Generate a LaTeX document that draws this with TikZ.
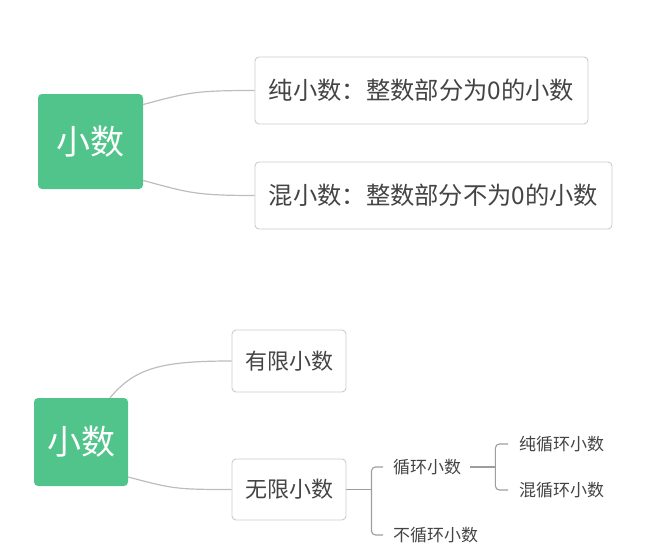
\documentclass[tikz,border=0pt]{standalone}
\usepackage{fontspec}
\setmainfont{Noto Sans CJK SC}
\usepackage{tikz}
\usetikzlibrary{calc}

\definecolor{mapgreen}{HTML}{51C48C}
\definecolor{maptext}{HTML}{444444}
\definecolor{mapline}{HTML}{BDBDBD}
\definecolor{mapborder}{HTML}{CCCCCC}
\definecolor{mapbrace}{HTML}{9E9E9E}

\begin{document}
\begin{tikzpicture}[
        x=1pt, y=-1pt,
        root/.style={
            rectangle,
            fill=mapgreen,
            rounded corners=4pt,
            text=white,
            align=center,
            font=\fontsize{34}{40}\selectfont,
            inner sep=0pt
        },
        topic/.style={
            rectangle,
            draw=mapborder,
            fill=white,
            line width=0.9pt,
            rounded corners=4pt,
            text=maptext,
            align=center,
            font=\fontsize{22}{26}\selectfont,
            inner sep=0pt
        },
        wide/.style={
            font=\fontsize{24.3}{28}\selectfont
        },
        leaf/.style={
            anchor=west,
            text=maptext,
            font=\fontsize{17}{20}\selectfont,
            inner sep=0pt
        },
        link/.style={
            draw=mapline,
            line width=1.2pt
        },
        brace/.style={
            draw=mapbrace,
            line width=1.1pt,
            rounded corners=4pt
        }
    ]

        \useasboundingbox (0,0) rectangle (665,560);

        % upper map
        \node[root, minimum width=105pt, minimum height=95pt] (rootA) at (90.5,141.5) {小数};
        \node[topic, wide, minimum width=333pt, minimum height=67pt] (chun) at (421.5,90.5) {纯小数：整数部分为0的小数};
        \node[topic, wide, minimum width=357pt, minimum height=67pt] (hun) at (433.5,195.5) {混小数：整数部分不为0的小数};

        \draw[link] ([yshift=37pt]rootA.east) .. controls +(45,-12) and +(-60,0) .. (chun.west);
        \draw[link] ([yshift=-39pt]rootA.east) .. controls +(45,12) and +(-60,0) .. (hun.west);

        % lower map
        \node[root, minimum width=94pt, minimum height=88pt] (rootB) at (81,442) {小数};
        \node[topic, minimum width=114pt, minimum height=62pt] (youxian) at (289,361) {有限小数};
        \node[topic, minimum width=114pt, minimum height=61pt] (wuxian) at (289,489.5) {无限小数};

        \node[leaf] (xunhuan) at (393,467) {循环小数};
        \node[leaf] (buxunhuan) at (393,535) {不循环小数};
        \node[leaf] (chunxh) at (519,444) {纯循环小数};
        \node[leaf] (hunxh) at (519,490) {混循环小数};

        \draw[link] ([xshift=29pt]rootB.north) .. controls +(25,-30) and +(-70,0) .. (youxian.west);
        \draw[link] ([yshift=-35pt]rootB.east) .. controls +(45,12) and +(-55,0) .. (wuxian.west);

        \draw[brace] (wuxian.east) -- ++(25,0) coordinate (fork1);
        \draw[brace] ([xshift=-10pt]xunhuan.west) -| (fork1) |- ([xshift=-10pt]buxunhuan.west);

        \draw[brace] ([xshift=9pt]xunhuan.east) -- ++(25,0) coordinate (fork2);
        \draw[brace] ([xshift=-11pt]chunxh.west) -| (fork2) |- ([xshift=-11pt]hunxh.west);

    \end{tikzpicture}
\end{document}
